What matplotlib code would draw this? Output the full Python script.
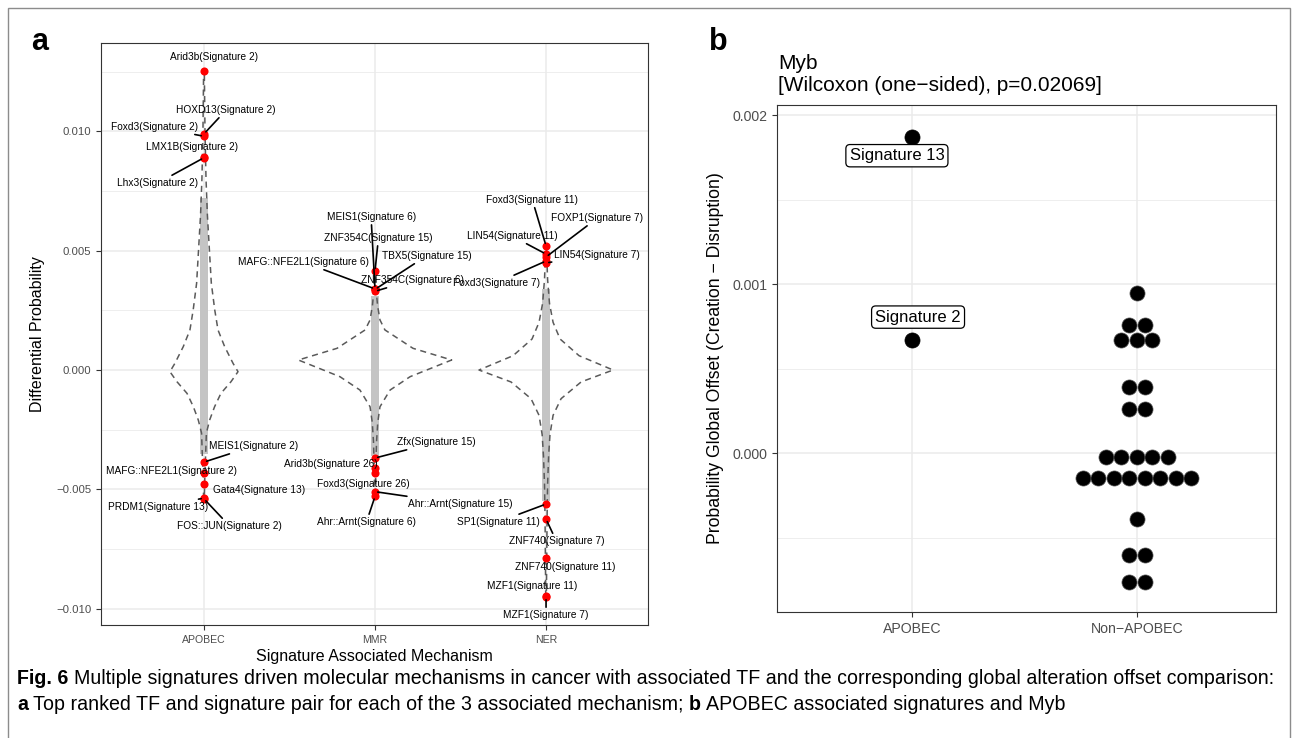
import numpy as np
import matplotlib
matplotlib.use("Agg")
import matplotlib.pyplot as plt
from matplotlib import font_manager
from matplotlib.patches import Rectangle

W, H = 1294, 738

installed = {f.name for f in font_manager.fontManager.ttflist}
FONT = "Liberation Sans"
CAP_FONT = "Liberation Sans Narrow" if "Liberation Sans Narrow" in installed else "Liberation Sans"
plt.rcParams["font.family"] = [FONT, "DejaVu Sans"]

# ---------------- panel a data ----------------
mechanisms = ["APOBEC", "MMR", "NER"]

apobec_tfs = ["Arid3b(Signature 2)", "HOXD13(Signature 2)", "Foxd3(Signature 2)",
              "LMX1B(Signature 2)", "Lhx3(Signature 2)", "MEIS1(Signature 2)",
              "MAFG::NFE2L1(Signature 2)", "Gata4(Signature 13)", "PRDM1(Signature 13)",
              "FOS::JUN(Signature 2)"]
apobec_vals = [0.01254, 0.00990, 0.00980, 0.00895, 0.00890, -0.00386,
               -0.00432, -0.00478, -0.00537, -0.00540]

mmr_tfs = ["MEIS1(Signature 6)", "ZNF354C(Signature 15)", "TBX5(Signature 15)",
           "MAFG::NFE2L1(Signature 6)", "ZNF354C(Signature 6)", "Zfx(Signature 15)",
           "Arid3b(Signature 26)", "Foxd3(Signature 26)", "Ahr::Arnt(Signature 15)",
           "Ahr::Arnt(Signature 6)"]
mmr_vals = [0.00340, 0.00415, 0.00338, 0.00340, 0.00330, -0.00369,
            -0.00411, -0.00432, -0.00510, -0.00530]

ner_tfs = ["Foxd3(Signature 11)", "FOXP1(Signature 7)", "LIN54(Signature 11)",
           "LIN54(Signature 7)", "Foxd3(Signature 7)", "SP1(Signature 11)",
           "ZNF740(Signature 7)", "ZNF740(Signature 11)", "MZF1(Signature 11)",
           "MZF1(Signature 7)"]
ner_vals = [0.00520, 0.00474, 0.00486, 0.00449, 0.00457, -0.00562,
            -0.00625, -0.00788, -0.00948, -0.00952]

# violin outlines (half widths in category units)
apobec_violin_y = [-0.0054, -0.0045, -0.0035, -0.00265, -0.0021, -0.00154, -0.00098,
                   -0.00049, -0.00007, 0.00028, 0.00098, 0.00168, 0.00252, 0.00364,
                   0.0050, 0.0065, 0.0080, 0.0100, 0.0126]
apobec_violin_w = [0.002, 0.005, 0.010, 0.014, 0.033, 0.062, 0.099, 0.158, 0.199,
                   0.170, 0.121, 0.082, 0.063, 0.043, 0.032, 0.020, 0.012, 0.006, 0.002]
mmr_violin_y = [-0.0053, -0.0040, -0.0030, -0.0022, -0.00154, -0.00084, -0.00028,
                0.00042, 0.00091, 0.00168, 0.0021, 0.0027, 0.0034, 0.0042]
mmr_violin_w = [0.002, 0.005, 0.009, 0.016, 0.029, 0.088, 0.205, 0.448, 0.222,
                0.058, 0.029, 0.015, 0.006, 0.002]
ner_violin_y = [-0.0095, -0.0078, -0.0062, -0.0048, -0.0036, -0.0027, -0.0019,
                -0.0012, -0.0005, 0.0000, 0.0006, 0.0013, 0.0020, 0.0028, 0.0038, 0.0052]
ner_violin_w = [0.002, 0.004, 0.006, 0.009, 0.015, 0.023, 0.041, 0.088, 0.205,
                0.392, 0.193, 0.082, 0.041, 0.020, 0.009, 0.002]

# extent of the dense grey cloud of all TF/signature pairs
cloud_lo = [-0.0035, -0.0036, -0.0055]
cloud_hi = [0.0072, 0.0031, 0.0034]

yticks_a = [-0.010, -0.005, 0.000, 0.005, 0.010]
yticklabels_a = ["\u22120.010", "\u22120.005", "0.000", "0.005", "0.010"]

# ---------------- panel b data ----------------
groups_b = ["APOBEC", "Non\u2212APOBEC"]
apobec_sigs = ["Signature 13", "Signature 2"]
apobec_offset = [0.00187, 0.00067]
non_apobec_offset = [0.00095, 0.00076, 0.00076, 0.00067, 0.00067, 0.00067,
                     0.00039, 0.00039, 0.00026, 0.00026,
                     -0.00002, -0.00002, -0.00002, -0.00002, -0.00002,
                     -0.000146, -0.000146, -0.000146, -0.000146, -0.000146,
                     -0.000146, -0.000146, -0.000146,
                     -0.00039, -0.00060, -0.00060, -0.00076, -0.00076]
yticks_b = [0.000, 0.001, 0.002]
yticklabels_b = ["0.000", "0.001", "0.002"]

# ---------------- label layout (text position, draw segment) ----------------
apobec_lab = [(1.06, 0.01312, False), (1.13, 0.0109, True), (0.71, 0.0102, True),
              (0.93, 0.00935, False), (0.73, 0.00784, True), (1.29, -0.00319, True),
              (0.81, -0.00423, False), (1.32, -0.00503, False), (0.73, -0.00574, True),
              (1.15, -0.00654, True)]
mmr_lab = [(1.977, 0.00641, True), (2.02, 0.00553, True), (2.30, 0.00478, True),
           (1.58, 0.00453, True), (2.22, 0.00377, True), (2.36, -0.00302, True),
           (1.74, -0.00394, False), (1.93, -0.00478, False), (2.50, -0.00562, True),
           (1.95, -0.00637, True)]
ner_lab = [(2.92, 0.00713, True), (3.30, 0.00637, True), (2.80, 0.00562, True),
           (3.30, 0.00482, True), (2.71, 0.00365, True), (2.72, -0.00637, True),
           (3.06, -0.00717, True), (3.11, -0.00826, False), (2.92, -0.00906, False),
           (3.00, -0.01027, True)]

GRID = "#ebebeb"
TICKC = "#4d4d4d"

fig = plt.figure(figsize=(W / 100, H / 100), dpi=100)


def style_axes(ax):
    for s in ax.spines.values():
        s.set_color("#333333")
        s.set_linewidth(0.8)
    ax.set_axisbelow(True)
    ax.grid(which="major", color=GRID, lw=1.1)
    ax.grid(which="minor", axis="y", color=GRID, lw=0.6)
    ax.tick_params(which="major", color="#333333", length=3.5, width=0.8, labelcolor=TICKC)
    ax.tick_params(which="minor", length=0)


# ---------------- panel a ----------------
axa = fig.add_axes([101 / W, 1 - 625 / H, (648 - 101) / W, (625 - 43) / H])
style_axes(axa)

profiles = [(apobec_violin_y, apobec_violin_w), (mmr_violin_y, mmr_violin_w),
            (ner_violin_y, ner_violin_w)]
for i, (vy, vw) in enumerate(profiles):
    xc = i + 1
    vy = np.array(vy)
    vw = np.array(vw)
    axa.fill_betweenx([cloud_lo[i], cloud_hi[i]], xc - 0.024, xc + 0.024,
                      color="#c4c4c4", lw=0, zorder=2)
    outline_x = np.concatenate([xc - vw, (xc + vw)[::-1], [xc - vw[0]]])
    outline_y = np.concatenate([vy, vy[::-1], [vy[0]]])
    axa.plot(outline_x, outline_y, color="#5a5a5a", lw=1.1, ls=(0, (4, 3)), zorder=3)

point_sets = [(apobec_vals, apobec_tfs, apobec_lab), (mmr_vals, mmr_tfs, mmr_lab),
              (ner_vals, ner_tfs, ner_lab)]
for i, (vals, names, lab) in enumerate(point_sets):
    xc = i + 1
    axa.scatter([xc] * len(vals), vals, s=34, color="red", lw=0, zorder=4)
    for v, name, (tx, ty, seg) in zip(vals, names, lab):
        ap = dict(arrowstyle="-", color="black", lw=1.2, shrinkA=0, shrinkB=2) if seg else None
        axa.annotate(name, xy=(xc, v), xytext=(tx, ty), fontsize=7.3,
                     ha="center", va="center", arrowprops=ap, zorder=5)

axa.set_xlim(0.398, 3.596)
axa.set_ylim(-0.01069, 0.01371)
axa.set_xticks([1, 2, 3])
axa.set_xticklabels(mechanisms, fontsize=7.6)
axa.set_yticks(yticks_a)
axa.set_yticklabels(yticklabels_a, fontsize=8.2)
axa.set_yticks([-0.0075, -0.0025, 0.0025, 0.0075, 0.0125], minor=True)
axa.set_xlabel("Signature Associated Mechanism", fontsize=11.5, labelpad=3)
axa.set_ylabel("Differential Probability", fontsize=11.5, labelpad=8)

# ---------------- panel b ----------------
axb = fig.add_axes([777 / W, 1 - 612 / H, (1276 - 777) / W, (612 - 105) / H])
style_axes(axb)

dot_step = 0.069
axb.scatter([1] * len(apobec_offset), apobec_offset, s=118, color="black", lw=0.5,
            edgecolor="black", zorder=3)
levels, counts = np.unique(non_apobec_offset, return_counts=True)
for lv, n in zip(levels, counts):
    xs = 2 + (np.arange(n) - (n - 1) / 2) * dot_step
    axb.scatter(xs, [lv] * n, s=118, color="black", lw=0.5, edgecolor="#555555", zorder=3)

box = dict(boxstyle="round,pad=0.22,rounding_size=0.25", fc="white", ec="black", lw=0.9)
axb.text(0.933, 0.00176, apobec_sigs[0], fontsize=12, ha="center", va="center", bbox=box, zorder=5)
axb.text(1.027, 0.000805, apobec_sigs[1], fontsize=12, ha="center", va="center", bbox=box, zorder=5)

axb.set_xlim(0.4, 2.618)
axb.set_ylim(-0.00094, 0.00206)
axb.set_xticks([1, 2])
axb.set_xticklabels(groups_b, fontsize=10.2)
axb.set_yticks(yticks_b)
axb.set_yticklabels(yticklabels_b, fontsize=10.2)
axb.set_yticks([-0.0005, 0.0005, 0.0015], minor=True)
axb.set_ylabel("Probability Global Offset (Creation \u2212 Disruption)", fontsize=12.7, labelpad=6)
axb.annotate("Myb\n[Wilcoxon (one\u2212sided), p=0.02069]", xy=(0, 1), xycoords="axes fraction",
             xytext=(1, 7), textcoords="offset points", ha="left", va="bottom",
             fontsize=15, linespacing=1.25)

# panel letters
fig.text(40 / W, 1 - 42 / H, "a", fontsize=22, fontweight="bold", ha="center", va="center",
         family="Liberation Sans")
fig.text(718 / W, 1 - 42 / H, "b", fontsize=22, fontweight="bold", ha="center", va="center",
         family="Liberation Sans")

# outer frame
fig.patches.append(Rectangle((8 / W, -0.02), (1290 - 8) / W, 1 - 8 / H + 0.02,
                             transform=fig.transFigure, fill=False, ec="#8c8c8c", lw=1.0))

# caption
line1 = [("Fig. 6", True), ("Multiple signatures driven molecular mechanisms in cancer with "
         "associated TF and the corresponding global alteration offset comparison:", False)]
line2 = [("a", True), ("Top ranked TF and signature pair for each of the 3 associated mechanism;", False),
         ("b", True), ("APOBEC associated signatures and Myb", False)]

renderer = fig.canvas.get_renderer()


def rich_line(x_px, y_px, runs, size):
    x = x_px
    made = []
    gap = 0.27 * size * 100 / 72
    for s, bold in runs:
        t = fig.text(x / W, 1 - y_px / H, s, fontsize=size, family=CAP_FONT,
                     fontweight="bold" if bold else "normal", ha="left", va="center")
        made.append(t)
        x += t.get_window_extent(renderer=renderer).width + gap
    return made, x - gap - x_px


cap_size = 14
made, width = rich_line(17, 678, line1, cap_size)
for t in made:
    t.remove()
cap_size = cap_size * 1260 / width
rich_line(17, 678, line1, cap_size)
rich_line(17, 705, line2, cap_size)

fig.savefig("out.png", dpi=100)
